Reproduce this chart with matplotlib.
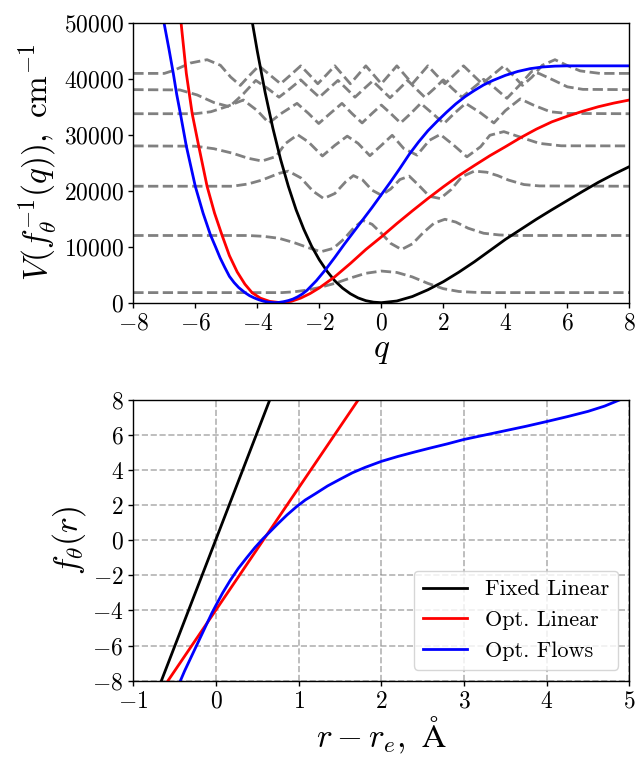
import numpy as np
import matplotlib
matplotlib.use('Agg')
import matplotlib.pyplot as plt

# LaTeX-like look without a TeX install
plt.rcParams['font.family'] = 'serif'
plt.rcParams['font.serif'] = ['cmr10', 'DejaVu Serif']
plt.rcParams['mathtext.fontset'] = 'cm'
plt.rcParams['axes.formatter.use_mathtext'] = True
plt.rcParams['axes.unicode_minus'] = True

## Top panel: potentials V(f^-1(q)) in cm^-1
q_black = [-4.16, -4.0, -3.75, -3.5, -3.25, -3.0, -2.75, -2.5, -2.25, -2.0, -1.75, -1.5,
           -1.25, -1.0, -0.75, -0.5, -0.25, 0.0, 0.5, 1.0, 1.5, 2.0, 2.5, 3.0, 3.5, 4.0,
           4.5, 5.0, 5.5, 6.0, 6.5, 7.0, 7.5, 8.0]
v_black = [50000, 44900, 37600, 31200, 25600, 20800, 16600, 13100, 10100, 7650, 5600, 3900,
           2600, 1600, 850, 360, 90, 0, 300, 1100, 2300, 3750, 5450, 7300, 9300, 11300,
           13100, 14900, 16600, 18250, 19900, 21500, 22950, 24300]

q_red = [-6.46, -6.29, -6.1, -5.89, -5.62, -5.38, -5.14, -4.9, -4.65, -4.4, -4.17, -3.9,
         -3.6, -3.25, -2.9, -2.6, -2.3, -2.0, -1.5, -1.0, -0.5, 0.0, 0.5, 1.0, 1.5, 2.0,
         2.5, 3.0, 3.5, 4.0, 4.5, 5.0, 5.5, 6.0, 6.5, 7.0, 7.5, 8.0]
v_red = [50000, 40950, 33740, 27960, 20770, 16000, 12080, 8400, 5500, 3300, 1790, 800,
         230, 0, 250, 820, 1630, 2640, 4640, 7000, 9500, 11750, 14130, 16400, 18600, 20700,
         22700, 24500, 26250, 27850, 29500, 31000, 32300, 33300, 34200, 35000, 35650, 36200]

q_blue = [-7.01, -6.85, -6.71, -6.6, -6.48, -6.29, -6.0, -5.75, -5.51, -5.35, -5.2, -5.05,
          -4.9, -4.75, -4.6, -4.4, -4.25, -4.1, -3.95, -3.8, -3.65, -3.45, -3.3, -3.15, -3.0,
          -2.85, -2.7, -2.55, -2.4, -2.1, -1.8, -1.5, -1.2, -0.9, -0.6, -0.3, 0.0, 0.3, 0.6,
          0.9, 1.2, 1.5, 1.8, 2.1, 2.4, 2.7, 3.0, 3.3, 3.6, 4.0, 4.4, 4.8, 5.2, 5.6, 6.0,
          7.0, 8.0]
v_blue = [50000, 45300, 40950, 37200, 33740, 27960, 20770, 16000, 12080, 10000, 8000, 6300,
          4700, 3600, 2700, 1800, 1250, 850, 520, 260, 100, 0, 50, 180, 380,
          650, 1050, 1550, 2200, 3900, 5900, 8100, 10400, 12600, 14800, 17000, 19300, 21600, 24000,
          26500, 28700, 30700, 32400, 34000, 35500, 36800, 37900, 38900, 39700, 40600, 41300,
          41800, 42100, 42250, 42300, 42300, 42300]

# vibrational states drawn on top of their energies (dashed gray)
q_s0 = [-8, -3.2, -2.8, -2.4, -2.0, -1.5, -1.0, -0.5, 0.0, 0.5, 1.0, 1.5, 2.0, 2.5, 3.0, 3.5, 8]
v_s0 = [1800, 1800, 1950, 2250, 2700, 3450, 4400, 5250, 5650, 5400, 4600, 3450, 2500, 2000,
        1850, 1800, 1800]

q_s1 = [-8, -4.3, -3.8, -3.3, -2.8, -2.4, -1.95, -1.55, -1.2, -0.9, -0.6, -0.3, 0.0, 0.3, 0.65,
        1.0, 1.35, 1.7, 2.05, 2.4, 2.8, 3.3, 3.8, 4.3, 8]
v_s1 = [12000, 12000, 11850, 11500, 10700, 9900, 9100, 9700, 11400, 13300, 14700, 14000, 12400,
        10600, 9500, 10500, 12500, 14200, 14900, 14400, 13300, 12400, 12100, 12000, 12000]

q_s2 = [-8, -4.8, -4.3, -3.85, -3.3, -3.0, -2.6, -2.2, -1.86, -1.5, -1.15, -0.9, -0.6, -0.3, 0.0,
        0.3, 0.6, 0.9, 1.2, 1.55, 1.9, 2.25, 2.6, 3.0, 3.4, 3.75, 4.1, 4.6, 5.1, 8]
v_s2 = [20800, 20800, 21200, 21900, 23100, 23500, 22300, 19900, 18600, 19500, 21600, 22700,
        21900, 20100, 19200, 20300, 22000, 22600, 21000, 19000, 18600, 20200, 22500, 23500,
        23300, 22700, 21900, 21100, 20850, 20800]

q_s3 = [-8, -6.0, -5.4, -4.8, -4.3, -3.85, -3.4, -3.1, -2.7, -2.35, -1.9, -1.5, -1.1, -0.75, -0.37,
        0.0, 0.35, 0.72, 1.15, 1.55, 1.9, 2.33, 2.76, 3.2, 3.5, 3.95, 4.6, 5.1, 5.8, 8]
v_s3 = [28000, 27950, 27500, 26700, 25800, 25300, 26100, 28400, 30000, 28700, 26200, 28100,
        29750, 28450, 26250, 28100, 29900, 27550, 26350, 29000, 30050, 28150, 26050, 27850,
        29900, 30550, 29350, 28450, 28020, 28000]

q_s4 = [-8, -6.0, -5.5, -5.0, -4.45, -4.0, -3.63, -3.2, -2.72, -2.35, -2.02, -1.65, -1.27, -0.95,
        -0.62, -0.3, 0.0, 0.3, 0.62, 0.95, 1.27, 1.65, 2.02, 2.35, 2.72, 3.2, 3.63, 4.0, 4.48,
        4.9, 5.45, 6.0, 8]
v_s4 = [33750, 33750, 34100, 35000, 36200, 34300, 32100, 33900, 35600, 33800, 32000, 33800,
        35600, 33800, 32100, 33800, 35300, 33800, 32100, 33800, 35600, 33800, 32000, 33800,
        35600, 33900, 32100, 34300, 36400, 35300, 34100, 33800, 33750]

q_s5 = [-8, -6.5, -5.94, -5.4, -4.9, -4.45, -4.05, -3.65, -3.3, -2.95, -2.6, -2.3, -2.0, -1.7,
        -1.4, -1.12, -0.85, -0.56, -0.28, 0.0, 0.28, 0.56, 0.85, 1.12, 1.4, 1.7, 2.0, 2.3, 2.6,
        2.95, 3.3, 3.65, 4.05, 4.45, 4.85, 5.1, 5.55, 6.0, 6.5, 8]
v_s5 = [38050, 38000, 37100, 35750, 35000, 37300, 39700, 38200, 36700, 38200, 39800, 38200,
        36700, 38200, 39700, 38200, 36700, 38200, 39600, 38100, 36600, 38100, 39700, 38200,
        36700, 38200, 39800, 38200, 36700, 38300, 39900, 38400, 36500, 38800, 41300, 40900,
        39750, 38550, 38100, 38050]

q_s6 = [-8, -7.0, -6.69, -6.16, -5.62, -5.19, -4.86, -4.55, -4.25, -3.95, -3.6, -3.25, -2.92,
        -2.6, -2.32, -2.05, -1.77, -1.5, -1.25, -1.0, -0.75, -0.5, -0.25, 0.0, 0.25, 0.5, 0.75,
        1.0, 1.25, 1.5, 1.77, 2.05, 2.35, 2.65, 2.95, 3.25, 3.6, 3.95, 4.25, 4.55, 4.86, 5.19,
        5.6, 5.98, 6.41, 7.05, 8]
v_s6 = [40950, 40950, 41500, 42800, 43400, 42400, 40300, 38800, 40600, 42300, 40700, 39100,
        40700, 42300, 40700, 39100, 40700, 42300, 40700, 39100, 40700, 42300, 40700, 39100,
        40700, 42300, 40700, 39100, 40700, 42300, 40700, 39100, 40700, 42300, 40700, 39100,
        40700, 42300, 40600, 38800, 40300, 42400, 43400, 42400, 41400, 40950, 40950]

## Bottom panel: coordinate maps f_theta(r)
r_black = [-0.66, 0.65]
f_black = [-8.0, 8.0]
r_red = [-0.58, 1.72]
f_red = [-8.0, 8.0]
r_blue = [-0.43, -0.38, -0.32, -0.26, -0.2, -0.12, -0.05, 0.0, 0.08, 0.17, 0.27, 0.37, 0.47,
          0.57, 0.66, 0.75, 0.86, 0.97, 1.08, 1.2, 1.35, 1.5, 1.65, 1.8, 2.0, 2.2, 2.4, 2.6,
          2.8, 3.0, 3.25, 3.5, 3.75, 4.0, 4.25, 4.5, 4.7, 4.88]
f_blue = [-8.0, -7.45, -6.85, -6.25, -5.65, -4.85, -4.15, -3.7, -3.0, -2.3, -1.6, -1.0, -0.42,
          0.1, 0.52, 0.95, 1.45, 1.9, 2.3, 2.65, 3.1, 3.48, 3.85, 4.15, 4.5, 4.78, 5.03, 5.27,
          5.5, 5.75, 6.0, 6.25, 6.5, 6.77, 7.05, 7.35, 7.65, 8.0]
labels = ['Fixed Linear', 'Opt. Linear', 'Opt. Flows']

fig = plt.figure(figsize=(6.36, 7.63), dpi=100)
ax1 = fig.add_axes([0.2096, 0.6033, 0.780, 0.3669])
ax2 = fig.add_axes([0.2096, 0.1079, 0.780, 0.3679])

for qs, vs in [(q_s0, v_s0), (q_s1, v_s1), (q_s2, v_s2), (q_s3, v_s3),
               (q_s4, v_s4), (q_s5, v_s5), (q_s6, v_s6)]:
    ax1.plot(qs, vs, color='gray', linestyle='--', linewidth=2)
ax1.plot(q_black, v_black, color='k', linewidth=2)
ax1.plot(q_red, v_red, color='r', linewidth=2)
ax1.plot(q_blue, v_blue, color='b', linewidth=2)
ax1.set_xlim(-8, 8)
ax1.set_ylim(0, 50000)
ax1.set_xticks(np.arange(-8, 9, 2))
ax1.set_yticks(np.arange(0, 50001, 10000))
ax1.set_xlabel('$q$', fontsize=24, labelpad=2)
ax1.set_ylabel(r'$V(f_\theta^{-1}(q)),\ \mathrm{cm}^{-1}$', fontsize=24, labelpad=3)

ax2.plot(r_black, f_black, color='k', linewidth=2, label=labels[0])
ax2.plot(r_red, f_red, color='r', linewidth=2, label=labels[1])
ax2.plot(r_blue, f_blue, color='b', linewidth=2, label=labels[2])
ax2.set_xlim(-1, 5)
ax2.set_ylim(-8, 8)
ax2.set_xticks(np.arange(-1, 6, 1))
ax2.set_yticks(np.arange(-8, 9, 2))
ax2.grid(color='gray', alpha=0.6, linestyle='--', linewidth=1.2)
ax2.set_axisbelow(True)
ax2.set_xlabel(r'$r - r_e,\ \mathrm{\AA}$', fontsize=24, labelpad=2)
ax2.set_ylabel(r'$f_\theta(r)$', fontsize=24, labelpad=3)
ax2.legend(loc='lower right', fontsize=16)

for ax in (ax1, ax2):
    ax.tick_params(labelsize=17, width=1.0)
    for s in ax.spines.values():
        s.set_linewidth(1.0)

plt.savefig('out.png', dpi=100)
